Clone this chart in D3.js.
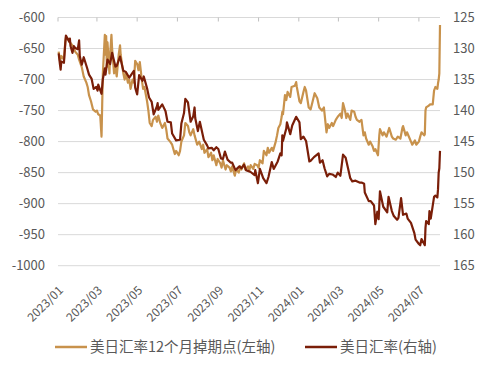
<!DOCTYPE html>
<html><head><meta charset="utf-8">
<script src="https://cdn.jsdelivr.net/npm/d3@7"></script>
<style>
html,body{margin:0;padding:0;background:#fff;}
svg{display:block;}
text{font-family:"Noto Sans CJK SC","Noto Sans",sans-serif;fill:#595959;}
</style></head>
<body><svg id="c" width="487" height="369"></svg>
<script>
// ---- data ----
const leftTicks = [-600,-650,-700,-750,-800,-850,-900,-950,-1000];
const rightTicks = [125,130,135,140,145,150,155,160,165];
const xTickLabels = ["2023/01","2023/03","2023/05","2023/07","2023/09","2023/11","2024/01","2024/03","2024/05","2024/07"];
const seriesNames = ["美日汇率12个月掉期点(左轴)","美日汇率(右轴)"];

// USDJPY 12M forward points (left axis)
const fwdPoints = [
["2023-01-02",-655],["2023-01-04",-670],["2023-01-06",-662],["2023-01-10",-668],["2023-01-12",-640],["2023-01-13",-632],
["2023-01-16",-634],["2023-01-19",-640],["2023-01-23",-645],["2023-01-27",-655],["2023-01-31",-660],["2023-02-02",-668],
["2023-02-06",-680],["2023-02-09",-695],["2023-02-13",-705],["2023-02-15",-712],["2023-02-17",-725],["2023-02-20",-735],
["2023-02-23",-748],["2023-02-27",-752],["2023-03-01",-750],["2023-03-03",-756],["2023-03-06",-758],["2023-03-08",-792],
["2023-03-09",-740],["2023-03-10",-690],["2023-03-13",-628],["2023-03-14",-660],["2023-03-15",-630],["2023-03-16",-680],
["2023-03-17",-640],["2023-03-20",-690],["2023-03-21",-660],["2023-03-23",-628],["2023-03-24",-650],["2023-03-27",-690],
["2023-03-29",-680],["2023-03-31",-695],["2023-04-03",-660],["2023-04-05",-645],["2023-04-06",-660],["2023-04-10",-690],
["2023-04-12",-700],["2023-04-14",-690],["2023-04-17",-705],["2023-04-19",-700],["2023-04-21",-715],["2023-04-24",-700],
["2023-04-26",-705],["2023-04-28",-670],["2023-05-01",-675],["2023-05-03",-685],["2023-05-05",-672],["2023-05-08",-700],
["2023-05-10",-715],["2023-05-12",-712],["2023-05-16",-735],["2023-05-18",-750],["2023-05-20",-770],["2023-05-23",-775],
["2023-05-25",-765],["2023-05-29",-760],["2023-05-31",-768],["2023-06-02",-758],["2023-06-05",-770],["2023-06-08",-778],
["2023-06-12",-770],["2023-06-14",-780],["2023-06-16",-795],["2023-06-20",-800],["2023-06-23",-805],["2023-06-27",-820],
["2023-06-29",-815],["2023-07-03",-822],["2023-07-05",-815],["2023-07-07",-800],["2023-07-11",-790],["2023-07-13",-770],
["2023-07-17",-775],["2023-07-19",-785],["2023-07-21",-790],["2023-07-25",-780],["2023-07-27",-790],["2023-07-31",-805],
["2023-08-03",-800],["2023-08-07",-812],["2023-08-09",-805],["2023-08-11",-818],["2023-08-15",-812],["2023-08-17",-825],
["2023-08-21",-818],["2023-08-23",-830],["2023-08-25",-822],["2023-08-29",-838],["2023-08-31",-828],["2023-09-04",-835],
["2023-09-06",-842],["2023-09-08",-830],["2023-09-12",-845],["2023-09-14",-838],["2023-09-18",-842],["2023-09-20",-848],
["2023-09-22",-840],["2023-09-26",-855],["2023-09-28",-845],["2023-10-02",-850],["2023-10-04",-840],["2023-10-06",-845],
["2023-10-10",-835],["2023-10-12",-845],["2023-10-16",-840],["2023-10-18",-846],["2023-10-20",-838],["2023-10-24",-844],
["2023-10-26",-836],["2023-10-30",-838],["2023-11-01",-842],["2023-11-03",-830],["2023-11-07",-835],["2023-11-09",-815],
["2023-11-13",-822],["2023-11-15",-810],["2023-11-17",-818],["2023-11-21",-810],["2023-11-23",-815],["2023-11-27",-800],
["2023-11-29",-790],["2023-12-01",-778],["2023-12-04",-772],["2023-12-06",-760],["2023-12-07",-752],["2023-12-08",-756],
["2023-12-11",-725],["2023-12-13",-733],["2023-12-15",-720],["2023-12-19",-728],["2023-12-21",-712],["2023-12-26",-710],
["2023-12-28",-704],["2023-12-29",-712],["2024-01-02",-735],["2024-01-04",-738],["2024-01-08",-720],["2024-01-10",-712],
["2024-01-12",-718],["2024-01-16",-745],["2024-01-19",-748],["2024-01-22",-735],["2024-01-25",-722],["2024-01-29",-730],
["2024-02-01",-745],["2024-02-05",-750],["2024-02-08",-745],["2024-02-12",-785],["2024-02-14",-772],["2024-02-16",-778],
["2024-02-20",-770],["2024-02-22",-775],["2024-02-26",-765],["2024-02-29",-760],["2024-03-04",-755],["2024-03-06",-762],
["2024-03-08",-738],["2024-03-11",-750],["2024-03-13",-762],["2024-03-15",-755],["2024-03-19",-765],["2024-03-21",-750],
["2024-03-25",-752],["2024-03-27",-760],["2024-03-29",-765],["2024-04-02",-768],["2024-04-05",-765],["2024-04-08",-790],
["2024-04-10",-785],["2024-04-12",-795],["2024-04-16",-805],["2024-04-18",-800],["2024-04-22",-808],["2024-04-24",-815],
["2024-04-26",-812],["2024-04-30",-822],["2024-05-02",-790],["2024-05-03",-780],["2024-05-07",-790],["2024-05-09",-785],
["2024-05-13",-792],["2024-05-15",-785],["2024-05-17",-778],["2024-05-21",-792],["2024-05-23",-795],["2024-05-27",-797],
["2024-05-30",-792],["2024-06-03",-795],["2024-06-06",-778],["2024-06-07",-775],["2024-06-11",-790],["2024-06-13",-785],
["2024-06-17",-795],["2024-06-19",-800],["2024-06-21",-805],["2024-06-25",-798],["2024-06-27",-805],["2024-07-01",-800],
["2024-07-03",-792],["2024-07-05",-785],["2024-07-09",-790],["2024-07-10",-788],["2024-07-11",-750],["2024-07-12",-745],
["2024-07-16",-742],["2024-07-18",-740],["2024-07-22",-740],["2024-07-24",-718],["2024-07-26",-712],["2024-07-29",-715],
["2024-07-30",-706],["2024-07-31",-700],["2024-08-01",-690],["2024-08-02",-612]
];

// USDJPY spot (right axis)
const usdjpy = [
["2023-01-02",130.8],["2023-01-04",132.6],["2023-01-05",133.4],["2023-01-06",132.1],["2023-01-10",132.3],["2023-01-12",129.2],
["2023-01-13",127.9],["2023-01-16",128.5],["2023-01-18",128.9],["2023-01-19",128.4],["2023-01-20",129.6],["2023-01-23",130.7],
["2023-01-25",129.6],["2023-01-27",129.9],["2023-01-31",130.1],["2023-02-02",128.7],["2023-02-03",131.2],["2023-02-06",132.6],
["2023-02-09",131.4],["2023-02-14",133.1],["2023-02-17",134.2],["2023-02-21",134.9],["2023-02-24",136.5],["2023-02-28",136.2],
["2023-03-02",136.8],["2023-03-03",135.8],["2023-03-08",137.3],["2023-03-10",134.9],["2023-03-13",133.2],["2023-03-14",134.2],
["2023-03-17",131.8],["2023-03-21",132.5],["2023-03-24",130.7],["2023-03-29",132.9],["2023-03-31",132.8],["2023-04-05",131.3],
["2023-04-10",133.6],["2023-04-14",133.8],["2023-04-19",134.7],["2023-04-26",133.6],["2023-04-28",136.3],["2023-05-01",137.4],
["2023-05-04",134.3],["2023-05-09",135.2],["2023-05-11",134.5],["2023-05-16",136.4],["2023-05-19",137.9],["2023-05-23",138.6],
["2023-05-26",140.6],["2023-05-31",139.3],["2023-06-01",138.8],["2023-06-02",139.9],["2023-06-08",139.0],["2023-06-13",140.1],
["2023-06-16",141.8],["2023-06-21",141.9],["2023-06-23",143.7],["2023-06-29",144.8],["2023-07-05",144.7],["2023-07-07",142.1],
["2023-07-11",140.4],["2023-07-13",138.1],["2023-07-17",138.7],["2023-07-21",141.8],["2023-07-25",140.9],["2023-07-27",139.5],
["2023-07-28",141.2],["2023-08-01",143.3],["2023-08-04",141.8],["2023-08-10",144.7],["2023-08-15",145.6],["2023-08-17",146.1],
["2023-08-22",146.0],["2023-08-25",146.4],["2023-08-29",145.9],["2023-09-01",146.2],["2023-09-05",147.7],["2023-09-08",147.8],
["2023-09-11",146.6],["2023-09-15",147.9],["2023-09-20",148.4],["2023-09-22",148.4],["2023-09-27",149.6],["2023-09-29",149.4],
["2023-10-03",149.0],["2023-10-06",149.3],["2023-10-10",148.7],["2023-10-13",149.6],["2023-10-20",149.9],["2023-10-26",150.4],
["2023-10-27",149.6],["2023-10-31",151.7],["2023-11-03",149.4],["2023-11-08",150.9],["2023-11-13",151.7],["2023-11-16",150.7],
["2023-11-21",148.3],["2023-11-24",149.4],["2023-11-30",148.2],["2023-12-04",146.9],["2023-12-06",147.2],["2023-12-07",144.0],
["2023-12-08",144.9],["2023-12-13",142.9],["2023-12-14",141.9],["2023-12-19",143.8],["2023-12-22",142.4],["2023-12-28",141.0],
["2024-01-02",141.9],["2024-01-04",144.6],["2024-01-08",144.2],["2024-01-12",144.9],["2024-01-17",148.2],["2024-01-19",148.1],
["2024-01-24",147.5],["2024-01-31",146.9],["2024-02-02",148.4],["2024-02-06",148.0],["2024-02-09",149.3],["2024-02-13",150.6],
["2024-02-16",150.2],["2024-02-21",150.3],["2024-02-26",150.7],["2024-02-29",150.0],["2024-03-04",150.5],["2024-03-07",148.0],
["2024-03-08",147.1],["2024-03-12",147.6],["2024-03-15",149.0],["2024-03-19",150.9],["2024-03-22",151.4],["2024-03-27",151.3],
["2024-04-02",151.6],["2024-04-05",151.6],["2024-04-09",151.8],["2024-04-10",153.2],["2024-04-16",154.6],["2024-04-19",154.6],
["2024-04-24",155.3],["2024-04-26",158.3],["2024-04-29",156.3],["2024-05-01",157.5],["2024-05-03",153.0],["2024-05-08",155.5],
["2024-05-14",156.4],["2024-05-16",153.9],["2024-05-21",156.2],["2024-05-24",157.0],["2024-05-29",157.6],["2024-05-31",157.3],
["2024-06-04",154.1],["2024-06-07",156.8],["2024-06-12",156.6],["2024-06-14",157.4],["2024-06-19",158.1],["2024-06-24",159.7],
["2024-06-26",160.8],["2024-07-01",161.5],["2024-07-03",161.7],["2024-07-05",160.7],["2024-07-10",161.7],["2024-07-11",158.9],
["2024-07-12",157.8],["2024-07-16",158.3],["2024-07-17",156.2],["2024-07-19",157.4],["2024-07-24",153.9],["2024-07-26",153.7],
["2024-07-29",154.0],["2024-07-30",152.7],["2024-07-31",150.0],["2024-08-01",149.3],["2024-08-02",146.5]
];

// ---- chart ----
const parse = d3.utcParse("%Y-%m-%d");
const svg = d3.select("#c");
const m = {left:58, right:440, top:17.5, bottom:265.7};
const x = d3.scaleUtc().domain([parse("2023-01-01"), parse("2024-08-02")]).range([m.left, m.right]);
const yL = d3.scaleLinear().domain([-600,-1000]).range([m.top, m.bottom]);
const yR = d3.scaleLinear().domain([125,165]).range([m.top, m.bottom]);
const colFwd = "#C8924C", colFx = "#7A1E08";

// gridlines
svg.append("g").selectAll("line").data(leftTicks).join("line")
  .attr("x1", m.left).attr("x2", m.right)
  .attr("y1", d=>yL(d)).attr("y2", d=>yL(d))
  .attr("stroke", "#D9D9D9").attr("stroke-width", 1);

// top axis tick marks
const tickDates = xTickLabels.map(s => parse(s.replace("/","-")+"-01"));
svg.append("g").selectAll("line").data(tickDates).join("line")
  .attr("x1", d=>x(d)).attr("x2", d=>x(d))
  .attr("y1", m.top).attr("y2", m.top+4)
  .attr("stroke", "#BFBFBF").attr("stroke-width", 1);

// left labels
svg.append("g").selectAll("text").data(leftTicks).join("text")
  .attr("x", 45).attr("y", d=>yL(d)).attr("dy","0.36em")
  .attr("text-anchor","end").attr("font-size","13px").text(d=>d);
// right labels
svg.append("g").selectAll("text").data(rightTicks).join("text")
  .attr("x", 453).attr("y", d=>yR(d)).attr("dy","0.36em")
  .attr("text-anchor","start").attr("font-size","13px").text(d=>d);
// x labels
svg.append("g").selectAll("text").data(tickDates).join("text")
  .attr("transform", (d,i)=>`translate(${x(d)+3},${288}) rotate(-45)`)
  .attr("text-anchor","end").attr("dy","0.35em").attr("font-size","12px")
  .text((d,i)=>xTickLabels[i]);

// lines
const lineFwd = d3.line().x(d=>x(parse(d[0]))).y(d=>yL(d[1]));
const lineFx = d3.line().x(d=>x(parse(d[0]))).y(d=>yR(d[1]));
svg.append("path").datum(fwdPoints).attr("d", lineFwd)
  .attr("fill","none").attr("stroke", colFwd).attr("stroke-width", 2.2).attr("stroke-linejoin","round");
svg.append("path").datum(usdjpy).attr("d", lineFx)
  .attr("fill","none").attr("stroke", colFx).attr("stroke-width", 2.2).attr("stroke-linejoin","round");

// legend
const lg = svg.append("g");
const legendItems = [{x:55, c:colFwd, t:seriesNames[0]}, {x:305, c:colFx, t:seriesNames[1]}];
legendItems.forEach(it=>{
  lg.append("line").attr("x1", it.x).attr("x2", it.x+32).attr("y1",347).attr("y2",347)
    .attr("stroke", it.c).attr("stroke-width", 2.5);
  lg.append("text").attr("x", it.x+35).attr("y",347).attr("dy","0.36em")
    .attr("font-size","14.5px").text(it.t);
});
</script></body></html>
